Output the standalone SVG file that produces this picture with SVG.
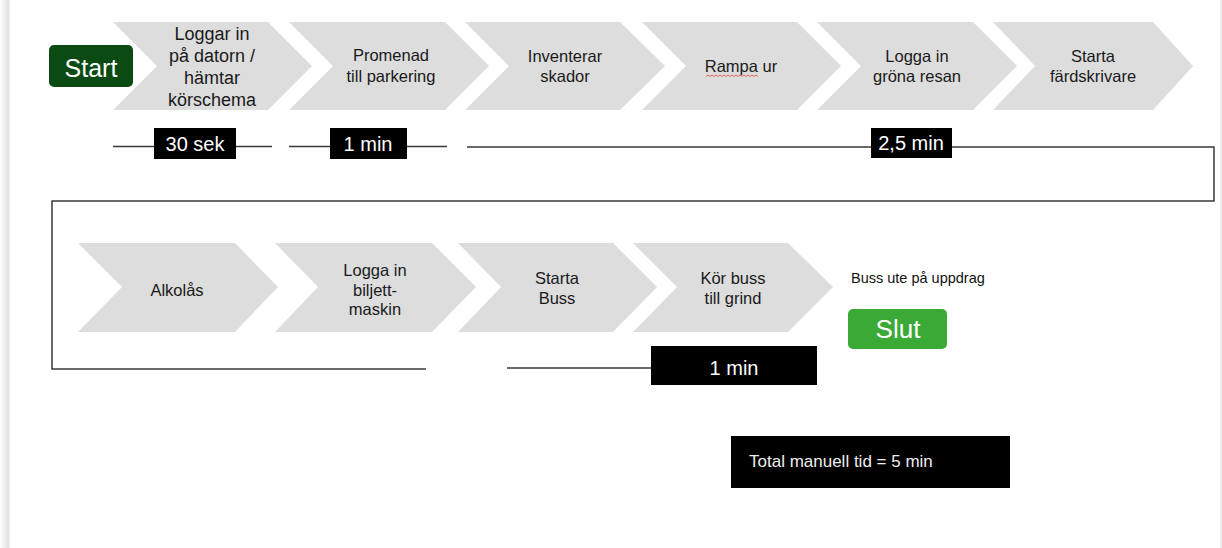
<svg xmlns="http://www.w3.org/2000/svg" width="1222" height="548" viewBox="0 0 1222 548">
  <defs>
    <linearGradient id="edgeShade" x1="0" y1="0" x2="1" y2="0">
      <stop offset="0" stop-color="#ffffff"/>
      <stop offset="0.8" stop-color="#e4e4e4"/>
      <stop offset="1" stop-color="#f2f2f2"/>
    </linearGradient>
  </defs>
  <style>
    .step { fill: #dddddd; }
    .lbl { font-family: "Liberation Sans", Arial, sans-serif; font-size: 16.5px; fill: #1a1a1a; text-anchor: middle; }
    .big { font-size: 18px; }
    .wire { fill: none; stroke: #3a3a3a; stroke-width: 1.5; }
    .tag { fill: #000000; }
    .tagtxt { font-family: "Liberation Sans", Arial, sans-serif; font-size: 20px; fill: #ffffff; text-anchor: middle; }
    .btntxt { font-family: "Liberation Sans", Arial, sans-serif; fill: #ffffff; text-anchor: middle; }
  </style>

  <!-- page background and edges -->
  <rect x="0" y="0" width="1222" height="548" fill="#ffffff"/>
  <rect x="0" y="0" width="10" height="548" fill="url(#edgeShade)"/>
  <line x1="1221" y1="0" x2="1221" y2="548" stroke="#e2e2e2" stroke-width="1"/>

  <!-- timeline connectors -->
  <g id="connectors" class="wire">
    <path d="M113,146.5 H154 M236,146.5 H272"/>
    <path d="M289,146.5 H330 M407,146.5 H447"/>
    <path d="M467,147 H1214 V201 H52 V369 H426"/>
    <path d="M507,368 H651"/>
  </g>

  <!-- start / end -->
  <g id="start">
    <rect x="49" y="45" width="84" height="42" rx="5" fill="#0b4b13"/>
    <text class="btntxt" x="91" y="77" font-size="25">Start</text>
  </g>

  <!-- row 1 -->
  <g id="step-logga-dator">
    <polygon class="step" points="113,22 268,22 312,66 268,110 113,110 157,66"/>
    <text class="lbl big" x="212" y="40">Loggar in</text>
    <text class="lbl big" x="212" y="62">på datorn /</text>
    <text class="lbl big" x="212" y="84">hämtar</text>
    <text class="lbl big" x="212" y="106">körschema</text>
  </g>
  <g id="step-promenad">
    <polygon class="step" points="289,22 445,22 489,66 445,110 289,110 333,66"/>
    <text class="lbl" x="391" y="61">Promenad</text>
    <text class="lbl" x="391" y="82">till parkering</text>
  </g>
  <g id="step-inventerar">
    <polygon class="step" points="465,22 620,22 665,66 620,110 465,110 509,66"/>
    <text class="lbl" x="565" y="62">Inventerar</text>
    <text class="lbl" x="565" y="82">skador</text>
  </g>
  <g id="step-rampa">
    <polygon class="step" points="642,22 797,22 841,66 797,110 642,110 686,66"/>
    <text class="lbl" x="741" y="72">Rampa ur</text>
    <path d="M706,76.5 l2,-1.5 l2,1.5 l2,-1.5 l2,1.5 l2,-1.5 l2,1.5 l2,-1.5 l2,1.5 l2,-1.5 l2,1.5 l2,-1.5 l2,1.5 l2,-1.5 l2,1.5 l2,-1.5 l2,1.5 l2,-1.5 l2,1.5 l2,-1.5 l2,1.5 l2,-1.5 l2,1.5 l2,-1.5 l2,1.5 l2,-1.5 l2,1.5" fill="none" stroke="#e05555" stroke-width="0.9"/>
  </g>
  <g id="step-grona-resan">
    <polygon class="step" points="817,22 973,22 1017,66 973,110 817,110 861,66"/>
    <text class="lbl" x="917" y="62">Logga in</text>
    <text class="lbl" x="917" y="82">gröna resan</text>
  </g>
  <g id="step-fardskrivare">
    <polygon class="step" points="993,22 1153,22 1193,66 1153,110 993,110 1035,66"/>
    <text class="lbl" x="1093" y="62">Starta</text>
    <text class="lbl" x="1093" y="82">färdskrivare</text>
  </g>

  <!-- row 1 durations -->
  <g id="time-30s">
    <rect class="tag" x="154" y="128" width="82" height="31"/>
    <text class="tagtxt" x="195" y="151">30 sek</text>
  </g>
  <g id="time-1min-a">
    <rect class="tag" x="330" y="128" width="77" height="31"/>
    <text class="tagtxt" x="368" y="151">1 min</text>
  </g>
  <g id="time-2-5min">
    <rect class="tag" x="871" y="128" width="81" height="30"/>
    <text class="tagtxt" x="911" y="150">2,5 min</text>
  </g>

  <!-- row 2 -->
  <g id="step-alkolas">
    <polygon class="step" points="78,243 235,243 278,287 235,332 78,332 122,287"/>
    <text class="lbl" x="177" y="296">Alkolås</text>
  </g>
  <g id="step-biljettmaskin">
    <polygon class="step" points="275,243 432,243 476,287 432,332 275,332 318,287"/>
    <text class="lbl" x="375" y="276">Logga in</text>
    <text class="lbl" x="375" y="296">biljett-</text>
    <text class="lbl" x="375" y="315">maskin</text>
  </g>
  <g id="step-starta-buss">
    <polygon class="step" points="458,243 613,243 657,287 613,332 458,332 501,287"/>
    <text class="lbl" x="557" y="284">Starta</text>
    <text class="lbl" x="557" y="304">Buss</text>
  </g>
  <g id="step-kor-buss">
    <polygon class="step" points="633,243 788,243 833,287 788,332 633,332 677,287"/>
    <text class="lbl" x="733" y="284">Kör buss</text>
    <text class="lbl" x="733" y="304">till grind</text>
  </g>

  <g id="end">
    <text x="851" y="283" font-family="'Liberation Sans', Arial, sans-serif" font-size="14.5" fill="#111111">Buss ute på uppdrag</text>
    <rect x="848" y="309" width="99" height="40" rx="5" fill="#3aa935"/>
    <text class="btntxt" x="898" y="338" font-size="26">Slut</text>
  </g>

  <!-- row 2 duration -->
  <g id="time-1min-b">
    <rect class="tag" x="651" y="346" width="166" height="39"/>
    <text class="tagtxt" x="734" y="375">1 min</text>
  </g>

  <!-- summary -->
  <g id="total">
    <rect class="tag" x="731" y="436" width="279" height="52"/>
    <text x="749" y="467" font-family="'Liberation Sans', Arial, sans-serif" font-size="17" fill="#eeeeee">Total manuell tid = 5 min</text>
  </g>
</svg>
